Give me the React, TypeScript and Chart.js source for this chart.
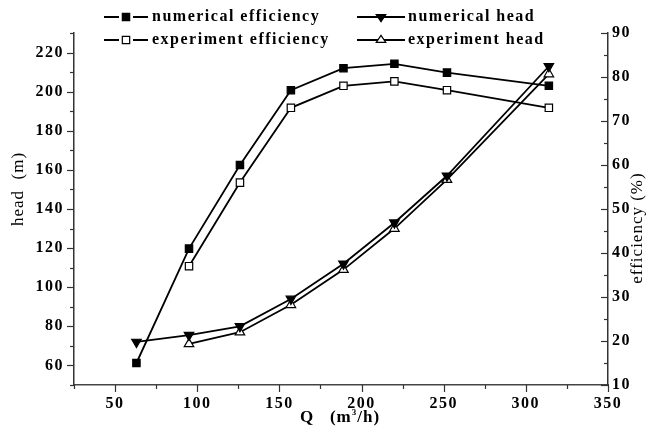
import React, { useEffect, useRef } from 'react';
import { Chart, registerables } from 'chart.js';

Chart.register(...registerables);

// ---- data ----
const Q_NUM = [63, 95, 126, 157, 189, 220, 252, 314];
const EFF_NUM = [15, 41, 60, 77, 82, 83, 81, 78];
const HEAD_NUM = [72, 75.5, 80, 94, 112, 133, 157, 213];

const Q_EXP = [95, 126, 157, 189, 220, 252, 314];
const EFF_EXP = [37, 56, 73, 78, 79, 77, 73];
const HEAD_EXP = [71, 77, 91, 109, 130, 155, 209];

const X_TICKS = [50, 100, 150, 200, 250, 300, 350];
const HEAD_TICKS = [60, 80, 100, 120, 140, 160, 180, 200, 220];
const EFF_TICKS = [10, 20, 30, 40, 50, 60, 70, 80, 90];

const SERIES_NAMES = ['numerical efficiency', 'numerical head', 'experiment efficiency', 'experiment head'];
const X_TITLE = ['Q   (m', '3', '/h)'];
const HEAD_TITLE = 'head  (m)';
const EFF_TITLE = 'efficiency (%)';

const FONT = "'Liberation Serif', 'Times New Roman', serif";
const SPACING = '1.5px';

function pts(xs: number[], ys: number[]) {
  return xs.map((x, i) => ({ x, y: ys[i] }));
}

function drawMarker(ctx: CanvasRenderingContext2D, style: string, rot: number, r: number, x: number, y: number) {
  ctx.beginPath();
  if (style === 'rect') {
    const h = Math.SQRT1_2 * r;
    ctx.rect(x - h, y - h, 2 * h, 2 * h);
  } else {
    const ang = (rot * Math.PI) / 180;
    for (let k = 0; k < 3; k++) {
      const t = ang - Math.PI / 2 + (k * 2 * Math.PI) / 3;
      const px = x + Math.cos(t) * r;
      const py = y + Math.sin(t) * r * 0.85;
      if (k === 0) ctx.moveTo(px, py);
      else ctx.lineTo(px, py);
    }
    ctx.closePath();
  }
  ctx.fill();
  ctx.stroke();
}

const decorPlugin = {
  id: 'decor',
  beforeLayout(chart: any) {
    chart.ctx.letterSpacing = SPACING;
  },
  beforeDraw(chart: any) {
    chart.ctx.letterSpacing = SPACING;
  },
  afterDraw(chart: any) {
    const { ctx, chartArea: a } = chart;
    const sx = chart.scales.x;
    const sy = chart.scales.y;
    const sy1 = chart.scales.y1;
    ctx.save();
    ctx.strokeStyle = '#333';
    ctx.lineWidth = 1.2;
    const line = (x1: number, y1: number, x2: number, y2: number) => {
      ctx.beginPath();
      ctx.moveTo(x1, y1);
      ctx.lineTo(x2, y2);
      ctx.stroke();
    };
    for (let v = sy.min; v <= sy.max; v += 10) {
      const p = Math.round(sy.getPixelForValue(v)) + 0.5;
      const len = HEAD_TICKS.includes(v) ? 7 : 4;
      line(a.left - len, p, a.left, p);
    }
    for (let v = sx.min; v <= sx.max; v += 25) {
      const p = Math.round(sx.getPixelForValue(v)) + 0.5;
      const len = X_TICKS.includes(v) ? 7 : 4;
      line(p, a.bottom, p, a.bottom + len);
    }
    for (let v = sy1.min; v <= sy1.max; v += 5) {
      const p = Math.round(sy1.getPixelForValue(v)) + 0.5;
      const len = EFF_TICKS.includes(v) ? 7 : 4;
      line(a.right - len, p, a.right, p);
    }
    ctx.restore();

    // axis titles
    ctx.save();
    ctx.fillStyle = '#000';
    ctx.letterSpacing = '1px';
    ctx.textBaseline = 'middle';
    ctx.textAlign = 'center';
    ctx.font = `17px ${FONT}`;
    ctx.save();
    ctx.translate(19, 189);
    ctx.rotate(-Math.PI / 2);
    ctx.fillText(HEAD_TITLE, 0, 0);
    ctx.restore();
    ctx.save();
    ctx.translate(638, 228);
    ctx.rotate(-Math.PI / 2);
    ctx.fillText(EFF_TITLE, 0, 0);
    ctx.restore();

    ctx.textAlign = 'left';
    ctx.font = `bold 17px ${FONT}`;
    const w1 = ctx.measureText(X_TITLE[0]).width;
    const w3 = ctx.measureText(X_TITLE[2]).width;
    ctx.font = `bold 9px ${FONT}`;
    const w2 = ctx.measureText(X_TITLE[1]).width;
    const total = w1 + w2 + w3;
    let tx = 340 - total / 2;
    const ty = 418;
    ctx.font = `bold 17px ${FONT}`;
    ctx.fillText(X_TITLE[0], tx, ty);
    tx += w1;
    ctx.font = `bold 9px ${FONT}`;
    ctx.fillText(X_TITLE[1], tx, ty - 5);
    tx += w2;
    ctx.font = `bold 17px ${FONT}`;
    ctx.fillText(X_TITLE[2], tx, ty);
    ctx.restore();

    // legend
    const ds = chart.data.datasets;
    const spots = [
      { x1: 104, x2: 148, tx: 152, y: 17, gap: true },
      { x1: 357, x2: 405, tx: 408, y: 17, gap: false },
      { x1: 104, x2: 148, tx: 152, y: 40, gap: true },
      { x1: 357, x2: 405, tx: 408, y: 40, gap: false },
    ];
    ctx.save();
    ds.forEach((d: any, i: number) => {
      const s = spots[i];
      const cx = (s.x1 + s.x2) / 2;
      ctx.strokeStyle = '#000';
      ctx.lineWidth = 2;
      if (s.gap) {
        line(s.x1, s.y, cx - 7, s.y);
        line(cx + 7, s.y, s.x2, s.y);
      } else {
        line(s.x1, s.y, s.x2, s.y);
      }
      ctx.fillStyle = d.pointBackgroundColor;
      ctx.strokeStyle = '#000';
      ctx.lineWidth = 1.2;
      drawMarker(ctx, d.pointStyle, d.pointRotation || 0, d.pointRadius, cx, s.y);
      ctx.fillStyle = '#000';
      ctx.letterSpacing = SPACING;
      ctx.font = `bold 16px ${FONT}`;
      ctx.textAlign = 'left';
      ctx.textBaseline = 'middle';
      ctx.fillText(d.label, s.tx, s.y);
    });
    ctx.restore();
  },
};

export default function App() {
  const ref = useRef<HTMLCanvasElement | null>(null);
  useEffect(() => {
    document.body.style.margin = '0';
    if (!ref.current) return;
    const tickFont = { family: FONT, size: 16, weight: 'bold' as const };
    const common = {
      borderColor: '#000',
      borderWidth: 1.8,
      pointBorderColor: '#000',
      pointBorderWidth: 1.2,
      tension: 0,
    };
    const chart = new Chart(ref.current, {
      type: 'line',
      data: {
        datasets: [
          {
            ...common,
            label: SERIES_NAMES[0],
            data: pts(Q_NUM, EFF_NUM),
            yAxisID: 'y1',
            pointStyle: 'rect',
            pointRadius: 5.2,
            pointBackgroundColor: '#000',
          },
          {
            ...common,
            label: SERIES_NAMES[1],
            data: pts(Q_NUM, HEAD_NUM),
            yAxisID: 'y',
            pointStyle: 'triangle',
            pointRotation: 180,
            pointRadius: 5.5,
            pointBackgroundColor: '#000',
          },
          {
            ...common,
            label: SERIES_NAMES[2],
            data: pts(Q_EXP, EFF_EXP),
            yAxisID: 'y1',
            pointStyle: 'rect',
            pointRadius: 5.2,
            pointBackgroundColor: '#fff',
          },
          {
            ...common,
            label: SERIES_NAMES[3],
            data: pts(Q_EXP, HEAD_EXP),
            yAxisID: 'y',
            pointStyle: 'triangle',
            pointRadius: 5.5,
            pointBackgroundColor: '#fff',
          },
        ] as any,
      },
      options: {
        animation: false,
        responsive: false,
        maintainAspectRatio: false,
        layout: { padding: { top: 33, left: 0, right: 0, bottom: 0 } },
        plugins: { legend: { display: false }, tooltip: { enabled: false } },
        scales: {
          x: {
            type: 'linear',
            position: 'bottom',
            min: 25,
            max: 350,
            afterBuildTicks: (s: any) => {
              s.ticks = X_TICKS.map((v) => ({ value: v }));
            },
            afterFit: (s: any) => {
              s.height = 50;
            },
            grid: { display: false, drawTicks: true, tickLength: 7 },
            border: { display: true, color: '#444', width: 1.5 },
            ticks: { font: tickFont, color: '#000', padding: 2, maxRotation: 0 },
          },
          y: {
            type: 'linear',
            position: 'left',
            min: 50,
            max: 230,
            afterBuildTicks: (s: any) => {
              s.ticks = HEAD_TICKS.map((v) => ({ value: v }));
            },
            afterFit: (s: any) => {
              s.width = 74;
            },
            grid: { display: false, drawTicks: true, tickLength: 7 },
            border: { display: true, color: '#333', width: 1.5 },
            ticks: { font: tickFont, color: '#000', padding: 3 },
          },
          y1: {
            type: 'linear',
            position: 'right',
            min: 10,
            max: 90,
            afterBuildTicks: (s: any) => {
              s.ticks = EFF_TICKS.map((v) => ({ value: v }));
            },
            afterFit: (s: any) => {
              s.width = 40;
            },
            grid: { display: false, drawTicks: false },
            border: { display: true, color: '#333', width: 1.5 },
            ticks: { font: tickFont, color: '#000', padding: 4 },
          },
        },
      } as any,
      plugins: [decorPlugin],
    });
    return () => chart.destroy();
  }, []);
  return (
    <div style={{ width: 648, height: 435 }}>
      <canvas ref={ref} width={648} height={435} style={{ display: 'block', width: 648, height: 435 }} />
    </div>
  );
}
